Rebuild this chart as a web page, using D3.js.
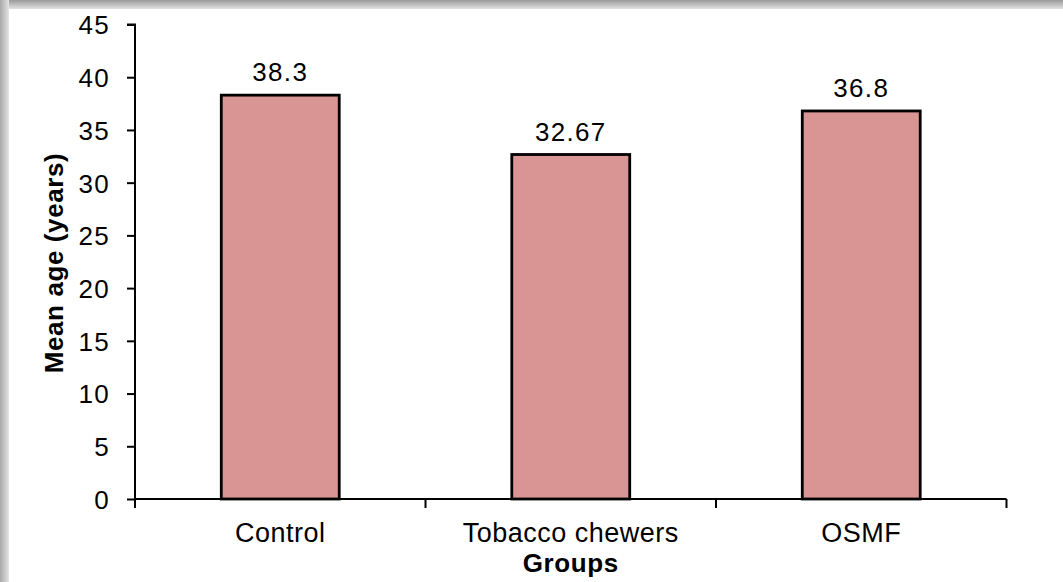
<!DOCTYPE html>
<html>
<head>
<meta charset="utf-8">
<script src="https://cdn.jsdelivr.net/npm/d3@7"></script>
<style>
  html, body { margin: 0; padding: 0; background: #fff; }
  svg { display: block; }
  text { font-family: "Liberation Sans", Arial, sans-serif; fill: #000; }
</style>
</head>
<body>
<svg id="chart" width="1063" height="582"></svg>
<script>
const categories = ["Control", "Tobacco chewers", "OSMF"];
const values = [38.3, 32.67, 36.8];
const valueLabels = ["38.3", "32.67", "36.8"];
const yTicks = [0, 5, 10, 15, 20, 25, 30, 35, 40, 45];
const yTitle = "Mean age (years)";
const xTitle = "Groups";

const W = 1063, H = 582;
const svg = d3.select("#chart");

// card with soft shadow along top and left edges
const defs = svg.append("defs");
const gTop = defs.append("linearGradient").attr("id", "shTop").attr("x1", 0).attr("y1", 0).attr("x2", 0).attr("y2", 1);
gTop.append("stop").attr("offset", "0%").attr("stop-color", "#9a9a9a");
gTop.append("stop").attr("offset", "100%").attr("stop-color", "#e2e2e2");
const gLeft = defs.append("linearGradient").attr("id", "shLeft").attr("x1", 0).attr("y1", 0).attr("x2", 1).attr("y2", 0);
gLeft.append("stop").attr("offset", "0%").attr("stop-color", "#a8a8a8");
gLeft.append("stop").attr("offset", "100%").attr("stop-color", "#e4e4e4");

svg.append("rect").attr("x", 0).attr("y", 0).attr("width", W).attr("height", H).attr("fill", "#fff");
svg.append("rect").attr("x", 0).attr("y", 0).attr("width", W).attr("height", 9).attr("fill", "url(#shTop)");
svg.append("rect").attr("x", 0).attr("y", 0).attr("width", 9).attr("height", H).attr("fill", "url(#shLeft)");

const x0 = 135, x1 = 1006.5, yBase = 499, yTop = 24.5;

const y = d3.scaleLinear().domain([0, 45]).range([yBase, yTop]);
const x = d3.scaleBand().domain(categories).range([x0, x1]).paddingInner(0.594).paddingOuter(0.297);

// bars
svg.append("g").selectAll("rect").data(categories).join("rect")
  .attr("x", d => x(d))
  .attr("y", (d, i) => y(values[i]))
  .attr("width", x.bandwidth())
  .attr("height", (d, i) => y(0) - y(values[i]))
  .attr("fill", "#d99594")
  .attr("stroke", "#000")
  .attr("stroke-width", 2.8);

// value labels
svg.append("g").selectAll("text").data(categories).join("text")
  .attr("x", d => x(d) + x.bandwidth() / 2)
  .attr("y", (d, i) => y(values[i]) - 14)
  .attr("text-anchor", "middle")
  .attr("font-size", 26)
  .attr("letter-spacing", 1.3)
  .text((d, i) => valueLabels[i]);

// y axis
const yAxis = d3.axisLeft(y).tickValues(yTicks).tickSize(8).tickPadding(17).tickFormat(d3.format("d"));
const gy = svg.append("g").attr("transform", `translate(${x0},0)`).call(yAxis);
gy.select(".domain").attr("stroke", "#000").attr("stroke-width", 2).attr("d", `M-8,${yTop}H0V${yBase + 9}`);
gy.selectAll(".tick line").attr("stroke", "#000").attr("stroke-width", 2);
gy.selectAll(".tick text").attr("font-size", 26).attr("letter-spacing", 1.3)
  .attr("font-family", "Liberation Sans, Arial, sans-serif").attr("fill", "#000").attr("dy", "0.36em");

// x axis line with boundary ticks
const step = x.step();
const boundaries = d3.range(categories.length + 1).map(i => x0 + i * step);
const gx = svg.append("g");
gx.append("line").attr("x1", x0).attr("x2", x1).attr("y1", yBase).attr("y2", yBase)
  .attr("stroke", "#000").attr("stroke-width", 2);
gx.selectAll("line.tk").data(boundaries).join("line").attr("class", "tk")
  .attr("x1", d => d).attr("x2", d => d).attr("y1", yBase).attr("y2", yBase + 9)
  .attr("stroke", "#000").attr("stroke-width", 2);
gx.selectAll("text").data(categories).join("text")
  .attr("x", d => x(d) + x.bandwidth() / 2)
  .attr("y", 542)
  .attr("text-anchor", "middle")
  .attr("font-size", 27)
  .attr("letter-spacing", 0.5)
  .text(d => d);

// axis titles
svg.append("text")
  .attr("transform", `translate(63,263) rotate(-90)`)
  .attr("text-anchor", "middle")
  .attr("font-size", 26)
  .attr("font-weight", "bold")
  .attr("letter-spacing", 0.6)
  .text(yTitle);

svg.append("text")
  .attr("x", (x0 + x1) / 2)
  .attr("y", 572)
  .attr("text-anchor", "middle")
  .attr("font-size", 26)
  .attr("font-weight", "bold")
  .attr("letter-spacing", 0.6)
  .text(xTitle);
</script>
</body>
</html>
